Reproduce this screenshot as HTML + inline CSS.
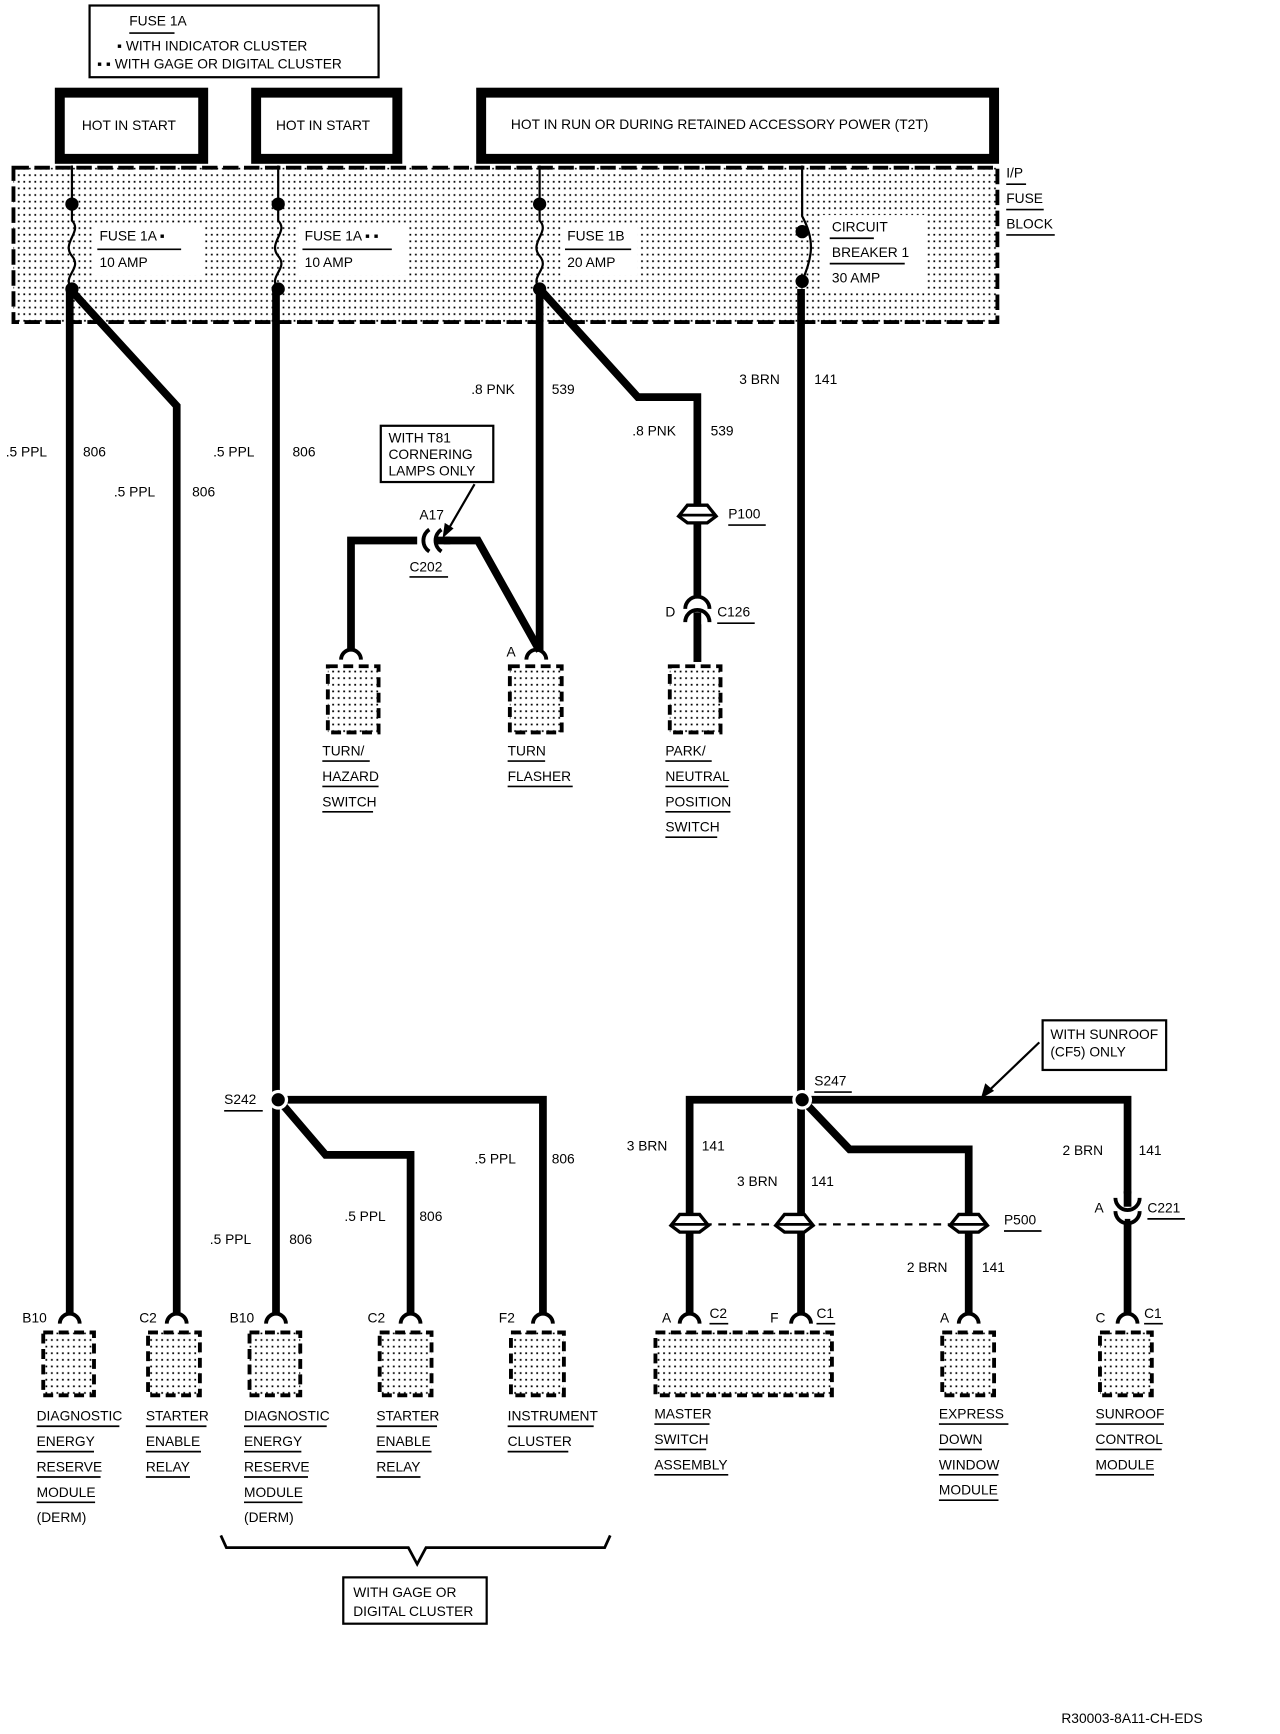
<!DOCTYPE html>
<html><head><meta charset="utf-8"><style>
html,body{margin:0;padding:0;background:#fff}
svg{display:block}
text{font-family:"Liberation Sans",sans-serif;font-size:12.5px;fill:#000}
.u{stroke:#000;stroke-width:1.5}
</style></head><body>
<svg width="1280" height="1734" viewBox="0 0 1160 1572" xmlns="http://www.w3.org/2000/svg">
<defs>
<pattern id="dots" width="5" height="6" patternUnits="userSpaceOnUse"><rect width="5" height="6" fill="#fff"/><rect x="1" y="2" width="1.6" height="1.6" fill="#000"/></pattern>
<g id="cap"><path d="M-9,0 A9,9 0 0 1 9,0" fill="none" stroke="#000" stroke-width="3.5"/></g>
<g id="lens"><path d="M-17,3 L-9,-7 L9,-7 L17,3 L9,9 L-9,9 Z" fill="#fff" stroke="#000" stroke-width="3"/><line x1="-16" y1="2" x2="16" y2="2" stroke="#000" stroke-width="2.5"/></g>
</defs>
<rect width="1160" height="1572" fill="#fff"/>

<!-- legend -->
<rect x="81" y="5" width="262" height="65" fill="#fff" stroke="#000" stroke-width="2"/>
<text x="117" y="23">FUSE 1A</text><line class="u" x1="117" y1="30" x2="158" y2="30"/>
<text x="106" y="46">▪ WITH INDICATOR CLUSTER</text>
<text x="88" y="62">▪ ▪ WITH GAGE OR DIGITAL CLUSTER</text>

<!-- hot boxes -->
<rect x="54" y="84" width="130" height="60" fill="#fff" stroke="#000" stroke-width="9"/>
<text x="74" y="118">HOT IN START</text>
<rect x="232" y="84" width="128" height="60" fill="#fff" stroke="#000" stroke-width="9"/>
<text x="250" y="118">HOT IN START</text>
<rect x="436" y="84" width="465" height="60" fill="#fff" stroke="#000" stroke-width="9"/>
<text x="463" y="117">HOT IN RUN OR DURING RETAINED ACCESSORY POWER (T2T)</text>

<!-- fuse block -->
<rect x="12" y="152" width="892" height="140" fill="url(#dots)" stroke="#000" stroke-width="3.5" stroke-dasharray="14 5"/>
<text x="912" y="161">I/P</text><line class="u" x1="912" y1="167" x2="930" y2="167"/>
<text x="912" y="184">FUSE</text><line class="u" x1="912" y1="190" x2="946" y2="190"/>
<text x="912" y="207">BLOCK</text><line class="u" x1="912" y1="213" x2="956" y2="213"/>

<rect x="84" y="204" width="100" height="46" fill="#fff"/>
<text x="90" y="218">FUSE 1A ▪</text><line class="u" x1="88" y1="226" x2="164" y2="226"/><text x="90" y="242">10 AMP</text>
<rect x="270" y="204" width="100" height="46" fill="#fff"/>
<text x="276" y="218">FUSE 1A ▪ ▪</text><line class="u" x1="274" y1="226" x2="355" y2="226"/><text x="276" y="242">10 AMP</text>
<rect x="508" y="204" width="70" height="46" fill="#fff"/>
<text x="514" y="218">FUSE 1B</text><line class="u" x1="512" y1="226" x2="572" y2="226"/><text x="514" y="242">20 AMP</text>
<rect x="745" y="195" width="95" height="68" fill="#fff"/>
<text x="754" y="210">CIRCUIT</text><line class="u" x1="752" y1="216" x2="792" y2="216"/>
<text x="754" y="233">BREAKER 1</text><line class="u" x1="752" y1="239" x2="820" y2="239"/>
<text x="754" y="256">30 AMP</text>

<g fill="none" stroke="#000" stroke-width="2">
<path d="M65,150 V185 M65,185 V200 C75,210 55,220 65,232 C75,244 55,250 65,262"/>
<path d="M252,150 V185 M252,185 V200 C262,210 242,220 252,232 C262,244 242,250 252,262"/>
<path d="M489,150 V185 M489,185 V200 C499,210 479,220 489,232 C499,244 479,250 489,262"/>
<path d="M727,150 V196 C740,220 735,235 727,255"/>
</g>
<g fill="#000">
<circle cx="65" cy="185" r="6"/><circle cx="65" cy="262" r="6"/>
<circle cx="252" cy="185" r="6"/><circle cx="252" cy="262" r="6"/>
<circle cx="489" cy="185" r="6"/><circle cx="489" cy="262" r="6"/>
<circle cx="727" cy="210" r="6"/><circle cx="727" cy="255" r="6"/>
</g>

<!-- main wires -->
<g fill="none" stroke="#000" stroke-width="7" stroke-linejoin="miter">
<path d="M63,262 V1190"/>
<path d="M66,265 L160,368 V1190"/>
<path d="M250,262 V1190"/>
<path d="M489,262 V590"/>
<path d="M491,264 L578,360 H632 V600"/>
<path d="M726,262 V1190"/>
<path d="M318,590 V490 H384 M396,490 H433 L489,590"/>
<path d="M252,997 H492 V1190"/>
<path d="M254,999 L295,1047 H372 V1190"/>
<path d="M727,997 H625 V1190"/>
<path d="M727,997 H1022 V1190"/>
<path d="M729,999 L770,1042 H878 V1190"/>
</g>
<g font-size="12.5">
<text x="5" y="414">.5 PPL</text><text x="75" y="414">806</text>
<text x="103" y="450">.5 PPL</text><text x="174" y="450">806</text>
<text x="193" y="414">.5 PPL</text><text x="265" y="414">806</text>
<text x="427" y="357">.8 PNK</text><text x="500" y="357">539</text>
<text x="573" y="395">.8 PNK</text><text x="644" y="395">539</text>
<text x="670" y="348">3 BRN</text><text x="738" y="348">141</text>
<text x="430" y="1055">.5 PPL</text><text x="500" y="1055">806</text>
<text x="312" y="1107">.5 PPL</text><text x="380" y="1107">806</text>
<text x="190" y="1128">.5 PPL</text><text x="262" y="1128">806</text>
<text x="568" y="1043">3 BRN</text><text x="636" y="1043">141</text>
<text x="668" y="1075">3 BRN</text><text x="735" y="1075">141</text>
<text x="822" y="1153">2 BRN</text><text x="890" y="1153">141</text>
<text x="963" y="1047">2 BRN</text><text x="1032" y="1047">141</text>
</g>

<!-- C202 -->
<rect x="378" y="478" width="24" height="24" fill="#fff"/>
<path d="M389,480 A12,12 0 0 0 389,500 M400,480 A12,12 0 0 0 400,500" fill="none" stroke="#000" stroke-width="3.5"/>
<line x1="396" y1="490" x2="408" y2="490" stroke="#000" stroke-width="7"/>
<text x="380" y="471">A17</text>
<text x="371" y="518">C202</text><line class="u" x1="371" y1="523" x2="406" y2="523"/>
<rect x="345" y="386" width="102" height="51" fill="#fff" stroke="#000" stroke-width="2"/>
<text x="352" y="401" font-size="12">WITH T81</text><text x="352" y="416" font-size="12">CORNERING</text><text x="352" y="431" font-size="12">LAMPS ONLY</text>
<line x1="430" y1="439" x2="405" y2="482" stroke="#000" stroke-width="2"/>
<path d="M401,488 L403,474 L411,479 Z" fill="#000"/>

<!-- P100 / C126 -->
<use href="#lens" x="632" y="465"/>
<text x="660" y="470">P100</text><line class="u" x1="660" y1="476" x2="694" y2="476"/>
<rect x="618" y="540" width="28" height="26" fill="#fff"/>
<path d="M621,552 A11,11 0 0 1 643,552 M621,564 A11,11 0 0 1 643,564" fill="none" stroke="#000" stroke-width="3.5"/>
<line x1="632" y1="555" x2="632" y2="600" stroke="#000" stroke-width="7"/>
<text x="603" y="559">D</text>
<text x="650" y="559">C126</text><line class="u" x1="650" y1="565" x2="684" y2="565"/>

<!-- top components -->
<g stroke="#000" stroke-width="3.5" stroke-dasharray="9 5" fill="url(#dots)">
<rect x="297" y="604" width="46" height="60"/>
<rect x="462" y="604" width="47" height="60"/>
<rect x="607" y="604" width="46" height="60"/>
</g>
<use href="#cap" x="318" y="598"/><use href="#cap" x="486" y="598"/>
<text x="459" y="595">A</text>
<g font-size="12.5">
<text x="292" y="685">TURN/</text><text x="292" y="708">HAZARD</text><text x="292" y="731">SWITCH</text>
<text x="460" y="685">TURN</text><text x="460" y="708">FLASHER</text>
<text x="603" y="685">PARK/</text><text x="603" y="708">NEUTRAL</text><text x="603" y="731">POSITION</text><text x="603" y="754">SWITCH</text>
</g>
<g class="u"><line x1="292" y1="690" x2="335" y2="690"/><line x1="292" y1="713" x2="343" y2="713"/><line x1="292" y1="736" x2="338" y2="736"/>
<line x1="460" y1="690" x2="494" y2="690"/><line x1="460" y1="713" x2="519" y2="713"/>
<line x1="603" y1="690" x2="645" y2="690"/><line x1="603" y1="713" x2="660" y2="713"/><line x1="603" y1="736" x2="662" y2="736"/><line x1="603" y1="759" x2="650" y2="759"/></g>

<!-- splices -->
<circle cx="252" cy="997" r="9" fill="#fff"/><circle cx="252" cy="997" r="6" fill="#000"/>
<text x="203" y="1001">S242</text><line class="u" x1="203" y1="1007" x2="238" y2="1007"/>
<circle cx="727" cy="997" r="9" fill="#fff"/><circle cx="727" cy="997" r="6" fill="#000"/>
<text x="738" y="984">S247</text><line class="u" x1="738" y1="990" x2="772" y2="990"/>
<rect x="945" y="925" width="112" height="45" fill="#fff" stroke="#000" stroke-width="2"/>
<text x="952" y="942" font-size="12">WITH SUNROOF</text><text x="952" y="958" font-size="12">(CF5) ONLY</text>
<line x1="942" y1="945" x2="895" y2="990" stroke="#000" stroke-width="2"/>
<path d="M889,996 L893,982 L901,989 Z" fill="#000"/>

<!-- P500 -->
<line x1="625" y1="1110" x2="878" y2="1110" stroke="#000" stroke-width="2" stroke-dasharray="7 6"/>
<use href="#lens" x="625" y="1108"/><use href="#lens" x="720" y="1108"/><use href="#lens" x="878" y="1108"/>
<text x="910" y="1110">P500</text><line class="u" x1="910" y1="1116" x2="944" y2="1116"/>
<!-- C221 -->
<rect x="1008" y="1082" width="28" height="26" fill="#fff"/>
<path d="M1011,1086 A11,11 0 0 0 1033,1086 M1011,1098 A11,11 0 0 0 1033,1098" fill="none" stroke="#000" stroke-width="3.5"/>
<line x1="1022" y1="1080" x2="1022" y2="1094" stroke="#000" stroke-width="7"/>
<line x1="1022" y1="1105" x2="1022" y2="1190" stroke="#000" stroke-width="5"/>
<text x="992" y="1099">A</text>
<text x="1040" y="1099">C221</text><line class="u" x1="1040" y1="1105" x2="1074" y2="1105"/>

<!-- bottom components -->
<g stroke="#000" stroke-width="3.5" stroke-dasharray="9 5" fill="url(#dots)">
<rect x="39" y="1208" width="46" height="57"/>
<rect x="134" y="1208" width="47" height="57"/>
<rect x="226" y="1208" width="46" height="57"/>
<rect x="344" y="1208" width="47" height="57"/>
<rect x="463" y="1208" width="48" height="57"/>
<rect x="594" y="1208" width="160" height="57"/>
<rect x="854" y="1208" width="47" height="57"/>
<rect x="997" y="1208" width="47" height="57"/>
</g>
<use href="#cap" x="63" y="1200"/><use href="#cap" x="160" y="1200"/><use href="#cap" x="250" y="1200"/>
<use href="#cap" x="372" y="1200"/><use href="#cap" x="492" y="1200"/><use href="#cap" x="625" y="1200"/>
<use href="#cap" x="726" y="1200"/><use href="#cap" x="878" y="1200"/><use href="#cap" x="1022" y="1200"/>
<g font-size="12">
<text x="20" y="1199">B10</text><text x="126" y="1199">C2</text><text x="208" y="1199">B10</text>
<text x="333" y="1199">C2</text><text x="452" y="1199">F2</text>
<text x="600" y="1199">A</text><text x="643" y="1195">C2</text>
<text x="698" y="1199">F</text><text x="740" y="1195">C1</text>
<text x="852" y="1199">A</text>
<text x="993" y="1199">C</text><text x="1037" y="1195">C1</text>
</g>
<g class="u"><line x1="643" y1="1200" x2="660" y2="1200"/><line x1="740" y1="1200" x2="757" y2="1200"/><line x1="1037" y1="1200" x2="1054" y2="1200"/></g>
<g font-size="12.5">
<text x="33" y="1288">DIAGNOSTIC</text><text x="33" y="1311">ENERGY</text><text x="33" y="1334">RESERVE</text><text x="33" y="1357">MODULE</text><text x="33" y="1380">(DERM)</text>
<text x="132" y="1288">STARTER</text><text x="132" y="1311">ENABLE</text><text x="132" y="1334">RELAY</text>
<text x="221" y="1288">DIAGNOSTIC</text><text x="221" y="1311">ENERGY</text><text x="221" y="1334">RESERVE</text><text x="221" y="1357">MODULE</text><text x="221" y="1380">(DERM)</text>
<text x="341" y="1288">STARTER</text><text x="341" y="1311">ENABLE</text><text x="341" y="1334">RELAY</text>
<text x="460" y="1288">INSTRUMENT</text><text x="460" y="1311">CLUSTER</text>
<text x="593" y="1286">MASTER</text><text x="593" y="1309">SWITCH</text><text x="593" y="1332">ASSEMBLY</text>
<text x="851" y="1286">EXPRESS</text><text x="851" y="1309">DOWN</text><text x="851" y="1332">WINDOW</text><text x="851" y="1355">MODULE</text>
<text x="993" y="1286">SUNROOF</text><text x="993" y="1309" font-size="11.5">CONTROL</text><text x="993" y="1332">MODULE</text>
</g>
<g class="u">
<line x1="33" y1="1293" x2="108" y2="1293"/><line x1="33" y1="1316" x2="85" y2="1316"/><line x1="33" y1="1339" x2="91" y2="1339"/><line x1="33" y1="1362" x2="86" y2="1362"/>
<line x1="132" y1="1293" x2="187" y2="1293"/><line x1="132" y1="1316" x2="182" y2="1316"/><line x1="132" y1="1339" x2="172" y2="1339"/>
<line x1="221" y1="1293" x2="296" y2="1293"/><line x1="221" y1="1316" x2="273" y2="1316"/><line x1="221" y1="1339" x2="279" y2="1339"/><line x1="221" y1="1362" x2="274" y2="1362"/>
<line x1="341" y1="1293" x2="396" y2="1293"/><line x1="341" y1="1316" x2="391" y2="1316"/><line x1="341" y1="1339" x2="381" y2="1339"/>
<line x1="460" y1="1293" x2="538" y2="1293"/><line x1="460" y1="1316" x2="515" y2="1316"/>
<line x1="593" y1="1291" x2="643" y2="1291"/><line x1="593" y1="1314" x2="640" y2="1314"/><line x1="593" y1="1337" x2="660" y2="1337"/>
<line x1="851" y1="1291" x2="914" y2="1291"/><line x1="851" y1="1314" x2="890" y2="1314"/><line x1="851" y1="1337" x2="905" y2="1337"/><line x1="851" y1="1360" x2="905" y2="1360"/>
<line x1="993" y1="1291" x2="1055" y2="1291"/><line x1="993" y1="1314" x2="1053" y2="1314"/><line x1="993" y1="1337" x2="1046" y2="1337"/>
</g>

<!-- brace -->
<path d="M200,1392 L205,1403 H370 L378,1418 L386,1403 H548 L553,1392" fill="none" stroke="#000" stroke-width="2.5"/>
<rect x="311" y="1430" width="130" height="42" fill="#fff" stroke="#000" stroke-width="2"/>
<text x="320" y="1448" font-size="12">WITH GAGE OR</text><text x="320" y="1465" font-size="12">DIGITAL CLUSTER</text>

<text x="962" y="1562" font-size="12">R30003-8A11-CH-EDS</text>
</svg>
</body></html>
